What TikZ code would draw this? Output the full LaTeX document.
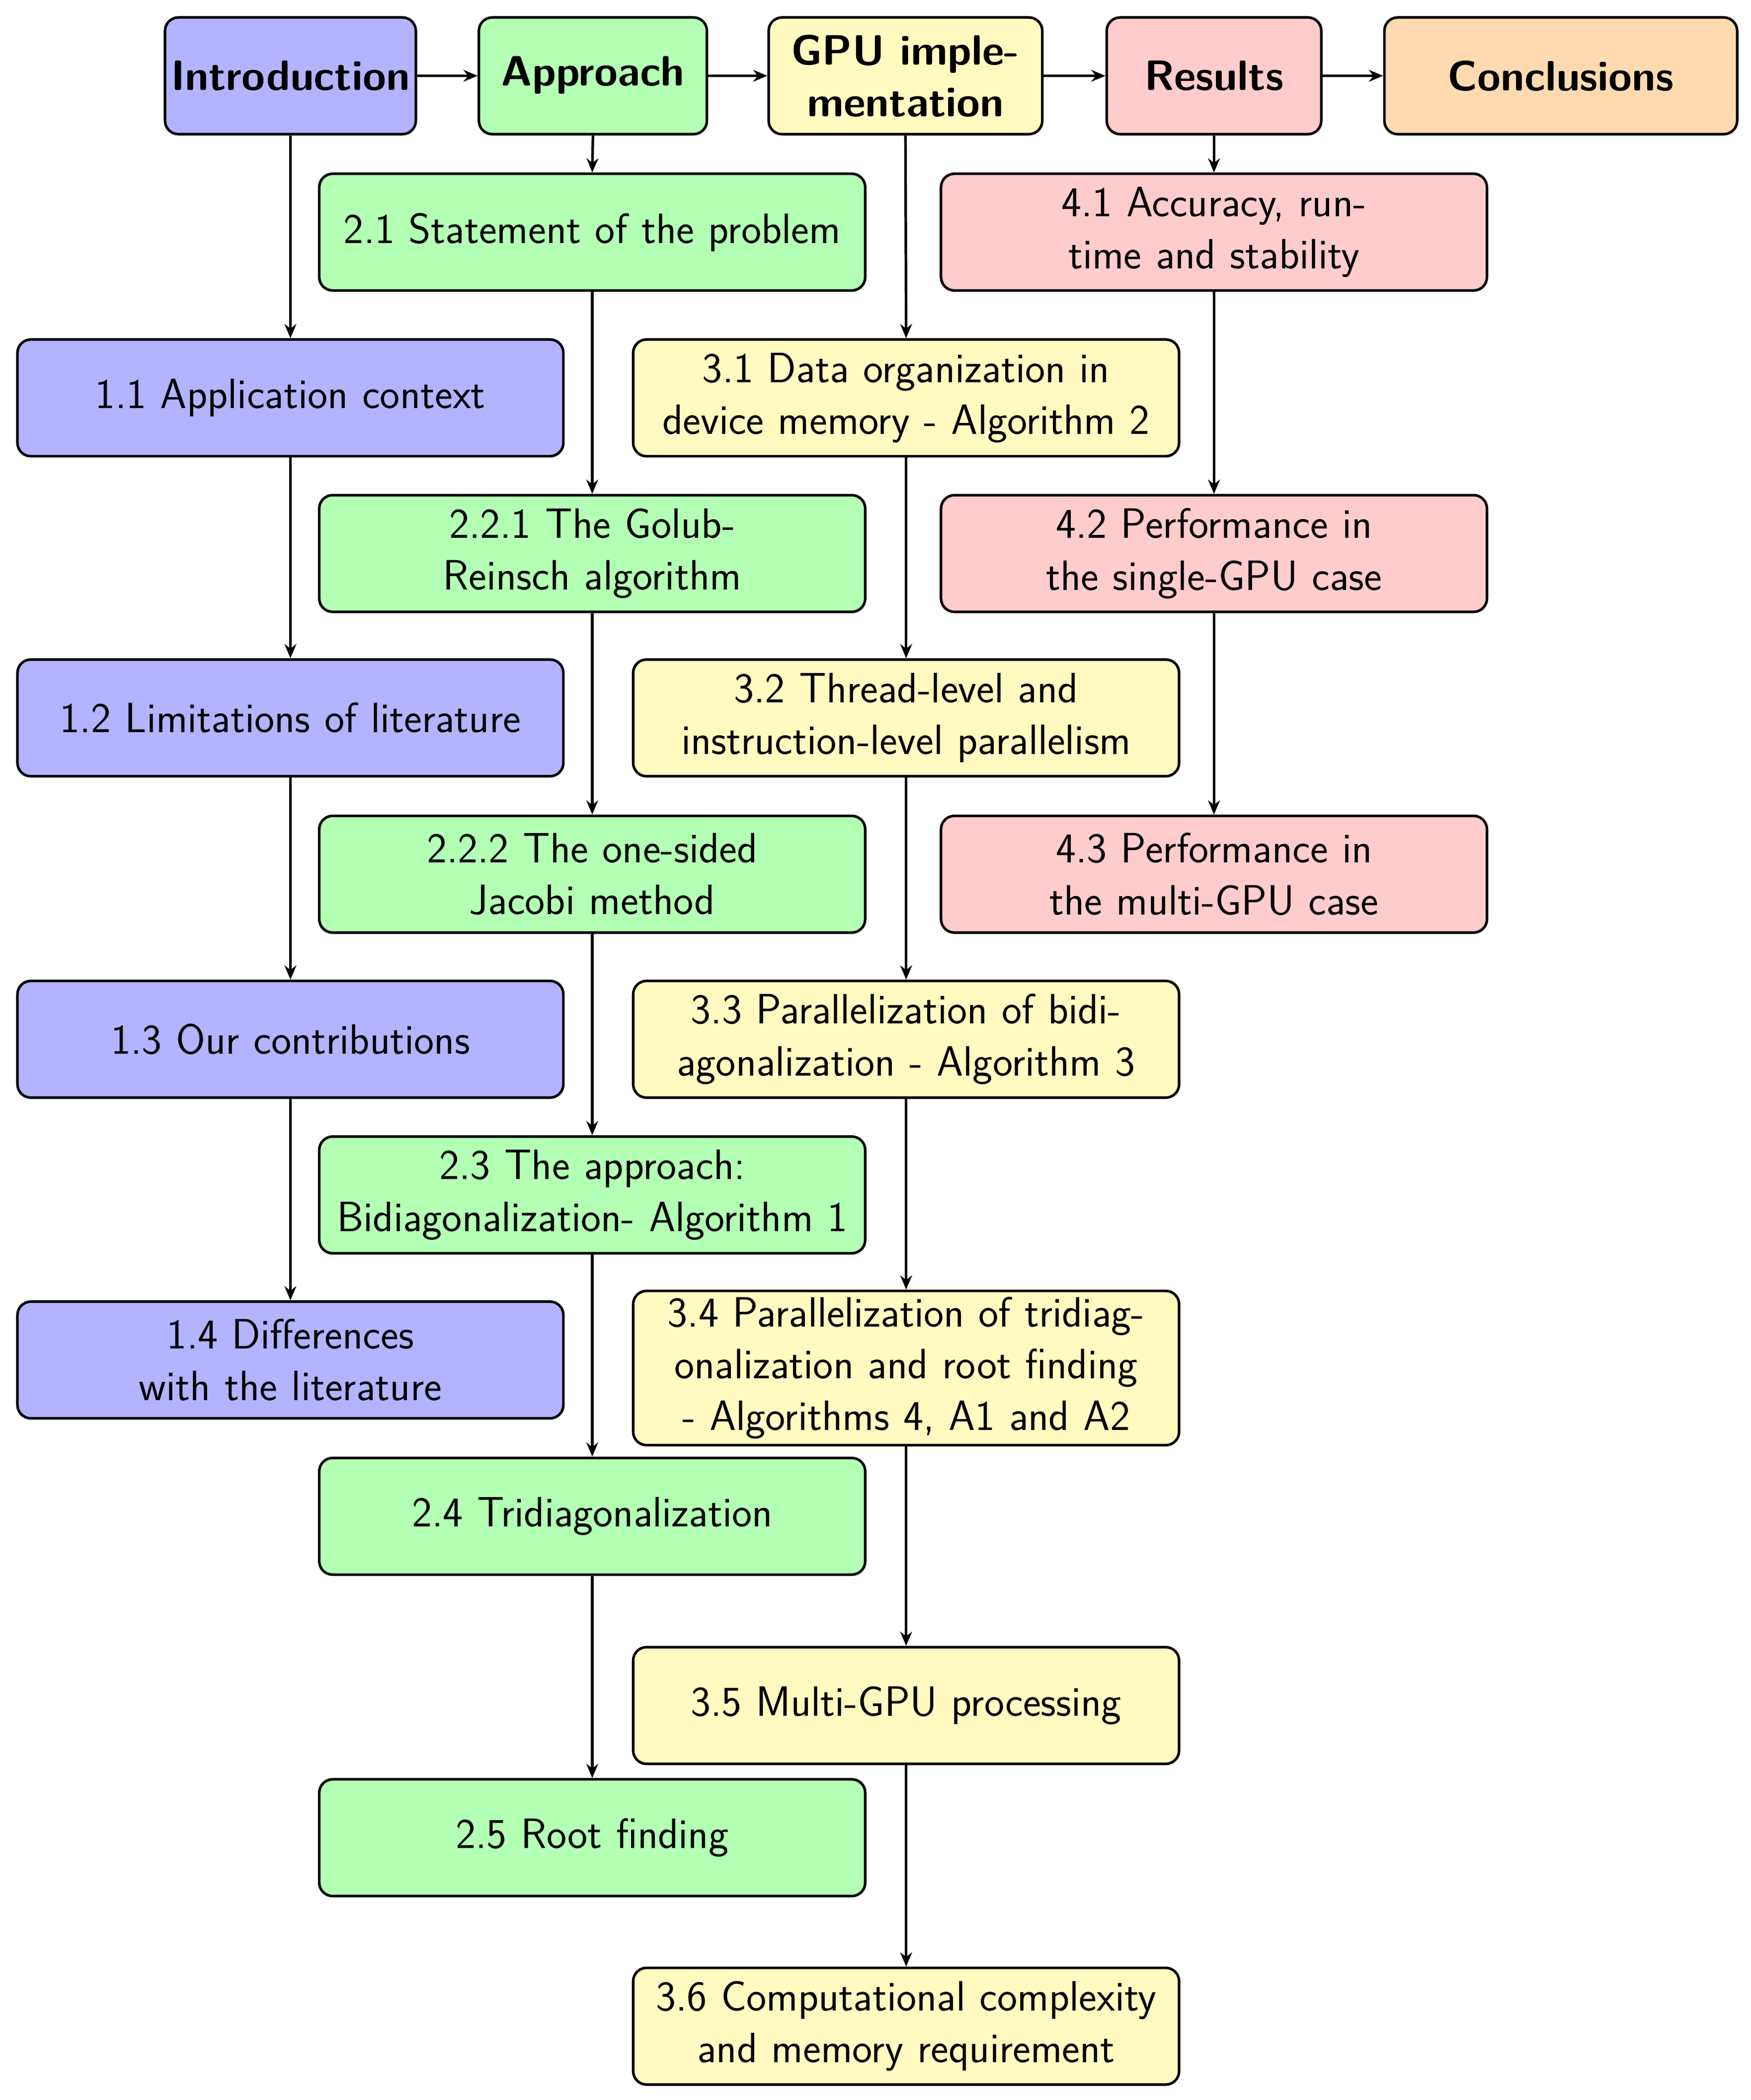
\documentclass[tikz,border=0pt]{standalone}
\usetikzlibrary{arrows.meta}
\begin{document}
\begin{tikzpicture}[
  font=\sffamily\fontsize{18}{22}\selectfont,
  box/.style={draw, line width=1.1pt, rounded corners=0.2cm, align=center, minimum height=1.74cm, inner sep=2pt},
  sub/.style={box, minimum width=8.14cm, text width=7.9cm},
  top/.style={box, font=\sffamily\bfseries\fontsize{18}{22}\selectfont},
  arr/.style={-{Stealth[length=6pt,width=5pt]}, line width=1.1pt},
]
\definecolor{cb}{HTML}{B3B3FF}
\definecolor{cg}{HTML}{B3FFB3}
\definecolor{cy}{HTML}{FFFAC0}
\definecolor{cr}{HTML}{FFCCCC}
\definecolor{co}{HTML}{FFDAB0}
\useasboundingbox (0,0) rectangle (26.1,-31.3);

\node[top, fill=cb, minimum width=3.74cm] (intro) at (4.33,-1.13) {Introduction};
\node[top, fill=cg, minimum width=3.4cm] (appr) at (8.84,-1.13) {\raisebox{0.15cm}{Approach}};
\node[top, fill=cy, minimum width=4.08cm] (gpu) at (13.5,-1.13) {GPU imple-\\mentation};
\node[top, fill=cr, minimum width=3.2cm] (res) at (18.1,-1.13) {Results};
\node[top, fill=co, minimum width=5.26cm] (conc) at (23.27,-1.13) {Conclusions};

\node[sub, fill=cb] (b1) at (4.33,-5.93) {1.1 Application context};
\node[sub, fill=cb] (b2) at (4.33,-10.7) {1.2 Limitations of literature};
\node[sub, fill=cb] (b3) at (4.33,-15.49) {1.3 Our contributions};
\node[sub, fill=cb] (b4) at (4.33,-20.27) {1.4 Differences\\with the literature};

\node[sub, fill=cg] (g1) at (8.83,-3.46) {2.1 Statement of the problem};
\node[sub, fill=cg] (g2) at (8.83,-8.25) {2.2.1 The Golub-\\Reinsch algorithm};
\node[sub, fill=cg] (g3) at (8.83,-13.03) {2.2.2 The one-sided\\Jacobi method};
\node[sub, fill=cg] (g4) at (8.83,-17.81) {2.3 The approach:\\Bidiagonalization- Algorithm 1};
\node[sub, fill=cg] (g5) at (8.83,-22.6) {2.4 Tridiagonalization};
\node[sub, fill=cg] (g6) at (8.83,-27.39) {2.5 Root finding};

\node[sub, fill=cy] (y1) at (13.51,-5.93) {3.1 Data organization in\\device memory - Algorithm 2};
\node[sub, fill=cy] (y2) at (13.51,-10.7) {3.2 Thread-level and\\instruction-level parallelism};
\node[sub, fill=cy] (y3) at (13.51,-15.49) {3.3 Parallelization of bidi-\\agonalization - Algorithm 3};
\node[sub, fill=cy, minimum height=2.3cm] (y4) at (13.51,-20.39) {3.4 Parallelization of tridiag-\\onalization and root finding\\- Algorithms 4, A1 and A2};
\node[sub, fill=cy] (y5) at (13.51,-25.42) {3.5 Multi-GPU processing};
\node[sub, fill=cy] (y6) at (13.51,-30.2) {3.6 Computational complexity\\and memory requirement};

\node[sub, fill=cr] (r1) at (18.1,-3.46) {4.1 Accuracy, run-\\time and stability};
\node[sub, fill=cr] (r2) at (18.1,-8.25) {4.2 Performance in\\the single-GPU case};
\node[sub, fill=cr] (r3) at (18.1,-13.03) {4.3 Performance in\\the multi-GPU case};

\draw[arr] (intro) -- (appr);
\draw[arr] (appr) -- (gpu);
\draw[arr] (gpu) -- (res);
\draw[arr] (res) -- (conc);

\draw[arr] (intro.south) -- (b1.north);
\draw[arr] (b1) -- (b2);
\draw[arr] (b2) -- (b3);
\draw[arr] (b3) -- (b4);

\draw[arr] (appr.south) -- (g1.north);
\draw[arr] (g1) -- (g2);
\draw[arr] (g2) -- (g3);
\draw[arr] (g3) -- (g4);
\draw[arr] (g4) -- (g5);
\draw[arr] (g5) -- (g6);

\draw[arr] (gpu.south) -- (y1.north);
\draw[arr] (y1) -- (y2);
\draw[arr] (y2) -- (y3);
\draw[arr] (y3) -- (y4);
\draw[arr] (y4) -- (y5);
\draw[arr] (y5) -- (y6);

\draw[arr] (res.south) -- (r1.north);
\draw[arr] (r1) -- (r2);
\draw[arr] (r2) -- (r3);
\end{tikzpicture}
\end{document}
